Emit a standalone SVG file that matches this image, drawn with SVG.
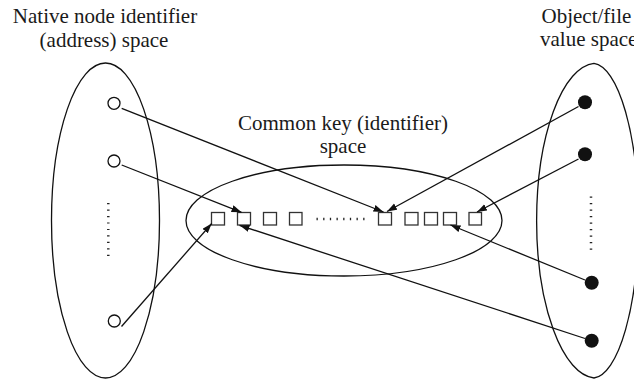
<svg xmlns="http://www.w3.org/2000/svg" width="634" height="379" viewBox="0 0 634 379">
  <style>
    .label { font-family: "Liberation Serif", "Times New Roman", serif; font-size: 21px; fill: #1a1a1a; }
    .space { fill: none; stroke: #111; stroke-width: 1.3; }
    .node { fill: #fff; stroke: #111; stroke-width: 1.3; }
    .obj { fill: #111; }
    .key { fill: #fff; stroke: #333; stroke-width: 1.3; }
    .dots { stroke: #222; stroke-width: 2.5; }
    .edge { fill: none; stroke: #111; stroke-width: 1.3; marker-end: url(#arrow); }
  </style>
  <defs>
    <marker id="arrow" markerUnits="userSpaceOnUse" markerWidth="11" markerHeight="8" refX="10" refY="3.5" orient="auto">
      <path d="M0,0 L10,3.5 L0,7 z" fill="#111"/>
    </marker>
  </defs>

  <rect width="634" height="379" fill="#fff"/>

  <!-- Native node identifier (address) space -->
  <g id="address-space">
    <ellipse class="space" cx="105.5" cy="220.5" rx="54" ry="157.5"/>
    <text class="label" x="105" y="23" text-anchor="middle">Native node identifier</text>
    <text class="label" x="104" y="47" text-anchor="middle">(address) space</text>
    <line class="dots" x1="108.3" y1="203" x2="108.3" y2="257" stroke-dasharray="1.2 5.27"/>
  </g>
  <g id="node-1"><circle class="node" cx="114" cy="103.3" r="6"/></g>
  <g id="node-2"><circle class="node" cx="114" cy="161" r="6"/></g>
  <g id="node-3"><circle class="node" cx="114.3" cy="321" r="6"/></g>

  <!-- Object/file value space -->
  <g id="value-space">
    <path class="space" d="M594,63.3 A60,157.5 0 0 0 594,378 A46.5,157.5 0 0 0 594,63.3 Z"/>
    <text class="label" x="541.5" y="23">Object/file</text>
    <text class="label" x="540" y="46">value space</text>
    <line class="dots" x1="591" y1="196.5" x2="591" y2="250.5" stroke-dasharray="1.2 5.3"/>
  </g>
  <g id="object-1"><circle class="obj" cx="585" cy="102.3" r="7"/></g>
  <g id="object-2"><circle class="obj" cx="585" cy="154.3" r="7"/></g>
  <g id="object-3"><circle class="obj" cx="591.7" cy="282.7" r="7"/></g>
  <g id="object-4"><circle class="obj" cx="591.7" cy="340.7" r="7"/></g>

  <!-- Common key (identifier) space -->
  <g id="key-space">
    <ellipse class="space" cx="344" cy="220.5" rx="158" ry="55.5"/>
    <text class="label" x="343" y="130" text-anchor="middle">Common key (identifier)</text>
    <text class="label" x="343" y="153" text-anchor="middle">space</text>
    <line class="dots" x1="316.5" y1="219" x2="366" y2="219" stroke-dasharray="1.3 5.37"/>
  </g>
  <g id="key-1"><rect class="key" x="211.5" y="212.5" width="13" height="12.5"/></g>
  <g id="key-2"><rect class="key" x="237.5" y="212.5" width="13" height="12.5"/></g>
  <g id="key-3"><rect class="key" x="263.5" y="212.5" width="13" height="12.5"/></g>
  <g id="key-4"><rect class="key" x="289.5" y="212.5" width="12.5" height="12.5"/></g>
  <g id="key-5"><rect class="key" x="378.5" y="212.5" width="13" height="12.5"/></g>
  <g id="key-6"><rect class="key" x="405" y="212.5" width="13" height="12.5"/></g>
  <g id="key-7"><rect class="key" x="424.5" y="212.5" width="13" height="12.5"/></g>
  <g id="key-8"><rect class="key" x="443.5" y="212.5" width="13" height="12.5"/></g>
  <g id="key-9"><rect class="key" x="469" y="212.5" width="12.5" height="12.5"/></g>

  <!-- Mappings into the common key space -->
  <g id="connectors">
    <line class="edge" x1="121.7" y1="108.3" x2="383.5" y2="212"/>
    <line class="edge" x1="121.7" y1="165" x2="241.5" y2="212.3"/>
    <line class="edge" x1="121.5" y1="326.5" x2="211.7" y2="223.5"/>
    <line class="edge" x1="578.5" y1="106.5" x2="387" y2="211.5"/>
    <line class="edge" x1="578.5" y1="159" x2="477" y2="212"/>
    <line class="edge" x1="585" y1="280" x2="450.5" y2="225"/>
    <line class="edge" x1="585" y1="338.5" x2="239.5" y2="225.3"/>
  </g>
</svg>
